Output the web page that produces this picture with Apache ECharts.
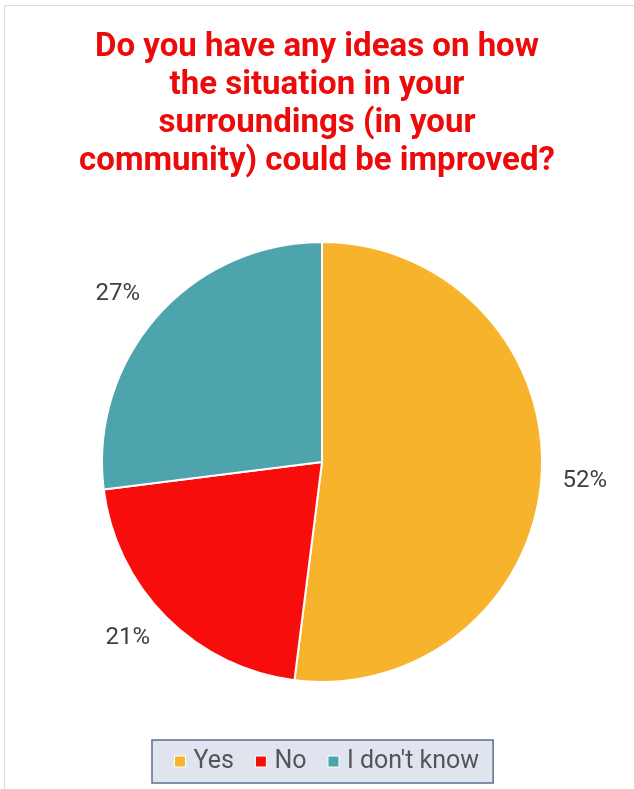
<!DOCTYPE html>
<html>
<head>
<meta charset="utf-8">
<script src="https://cdn.jsdelivr.net/npm/echarts@6/dist/echarts.min.js"></script>
<style>
  html, body { margin: 0; padding: 0; background: #ffffff; }
  #chart { width: 634px; height: 789px; }
</style>
</head>
<body>
<div id="chart"></div>
<script>
// Survey answers and their shares (percent)
const categories = ['Yes', 'No', "I don't know"];
const shares = [52, 21, 27];
const sliceColors = ['#F7B32B', '#F80D0D', '#4EA4AC'];
const questionLines = [
  'Do you have any ideas on how',
  'the situation in your',
  'surroundings (in your',
  'community) could be improved?'
];

const chart = echarts.init(document.getElementById('chart'), null, { renderer: 'canvas' });

const pieData = categories.map((name, i) => ({
  name: name,
  value: shares[i],
  itemStyle: { color: sliceColors[i] }
}));

chart.setOption({
  backgroundColor: '#ffffff',
  animation: false,
  title: {
    text: questionLines.join('\n'),
    left: 'center',
    top: 29,
    padding: 0,
    textStyle: {
      fontFamily: 'Roboto',
      fontWeight: 'bold',
      fontSize: 33,
      lineHeight: 38,
      color: '#EC0A0A'
    }
  },
  legend: {
    data: categories,
    left: 152,
    top: 740,
    orient: 'horizontal',
    backgroundColor: '#DFE4EE',
    borderColor: '#5B6E94',
    borderWidth: 1.5,
    padding: [9, 14, 9, 22],
    itemWidth: 11,
    itemHeight: 11,
    itemGap: 21,
    icon: 'rect',
    itemStyle: { borderColor: '#ffffff', borderWidth: 1 },
    textStyle: {
      fontFamily: 'Roboto',
      fontSize: 25,
      color: '#555555',
      padding: [0, 0, 0, 3]
    }
  },
  series: [{
    type: 'pie',
    center: [322, 462],
    radius: 220,
    startAngle: 90,
    clockwise: true,
    data: pieData,
    itemStyle: { borderColor: '#ffffff', borderWidth: 2 },
    label: {
      show: true,
      position: 'outside',
      formatter: '{c}%',
      fontFamily: 'Roboto',
      fontSize: 24,
      color: '#404040'
    },
    labelLine: { show: false, length: 16, length2: 0 },
    // small vertical nudges so the percentages sit like a best-fit layout
    labelLayout: function (params) {
      return { dy: [4, 9, -12][params.dataIndex] };
    },
    emphasis: { disabled: true }
  }],
  graphic: [{
    type: 'polyline',
    shape: { points: [[4.5, 789], [4.5, 5.5], [634, 5.5]] },
    style: { stroke: '#DADADA', lineWidth: 1, fill: null },
    silent: true
  }]
});
</script>
</body>
</html>
